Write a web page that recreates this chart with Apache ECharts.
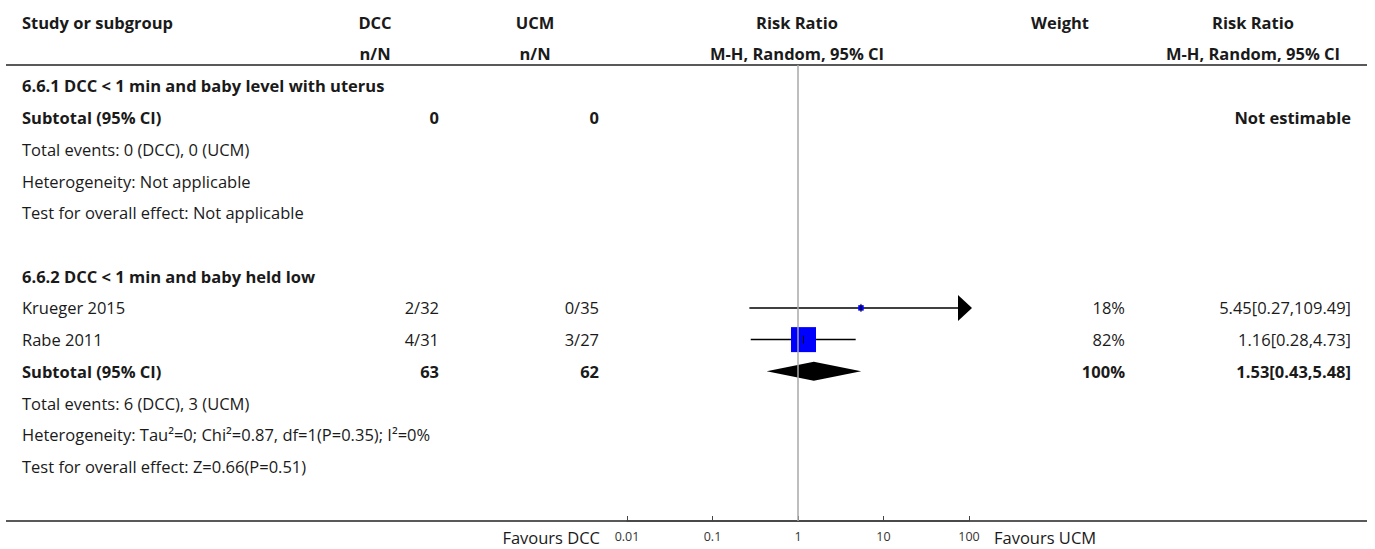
<!DOCTYPE html>
<html>
<head>
<meta charset="utf-8">
<script src="https://cdn.jsdelivr.net/npm/echarts@6/dist/echarts.min.js"></script>
<style>
html,body{margin:0;padding:0;background:#fff;}
#chart{width:1375px;height:549px;}
</style>
</head>
<body>
<div id="chart"></div>
<script>
// ---- data ----
const rowLabels = [
  "6.6.1 DCC < 1 min and baby level with uterus",
  "Subtotal (95% CI)",
  "Total events: 0 (DCC), 0 (UCM)",
  "Heterogeneity: Not applicable",
  "Test for overall effect: Not applicable",
  "",
  "6.6.2 DCC < 1 min and baby held low",
  "Krueger 2015",
  "Rabe 2011",
  "Subtotal (95% CI)",
  "Total events: 6 (DCC), 3 (UCM)",
  "Heterogeneity: Tau\u00b2=0; Chi\u00b2=0.87, df=1(P=0.35); I\u00b2=0%",
  "Test for overall effect: Z=0.66(P=0.51)"
];
const rowBold   = [1,1,0,0,0,0,1,0,0,1,0,0,0];
const dccCol    = ["","0","","","","","","2/32","4/31","63","","",""];
const ucmCol    = ["","0","","","","","","0/35","3/27","62","","",""];
const weightCol = ["","","","","","","","18%","82%","100%","","",""];
const rrCol     = ["","Not estimable","","","","","","5.45[0.27,109.49]","1.16[0.28,4.73]","1.53[0.43,5.48]","","",""];

const studyRows   = [7, 8];
const studyRR     = [5.45, 1.16];
const studyLo     = [0.27, 0.28];
const studyHi     = [109.49, 4.73];
const studyWeight = [18, 82];

const totalRows = [9];
const totalRR   = [1.53];
const totalLo   = [0.43];
const totalHi   = [5.48];

const xTickLabels = ["0.01","0.1","1","10","100"];
const headers1 = ["Study or subgroup","DCC","UCM","Risk Ratio","Weight","Risk Ratio"];
const headers2 = ["","n/N","n/N","M-H, Random, 95% CI","","M-H, Random, 95% CI"];

// ---- layout ----
const FONT = "'Open Sans'";
const FS = 16.5;
const TXT = "#1a1a1a";
const colX = { label: 22, dcc: 439, ucm: 599, weight: 1125, rr: 1351 };
const headX = [22, 375, 535, 797, 1060, 1253];
const headAlign = ["left","center","center","center","center","center"];
const XMIN = 0.01, XMAX = 100;

const chart = echarts.init(document.getElementById('chart'), null, {renderer:'svg'});

const graphics = [];
headers1.forEach((t,i)=>{
  graphics.push({type:'text', x:headX[i], y:22, style:{text:t, fill:TXT, font:'bold '+FS+'px '+FONT, textAlign:headAlign[i], textVerticalAlign:'middle'}});
  if (headers2[i]) graphics.push({type:'text', x:headX[i], y:53, style:{text:headers2[i], fill:TXT, font:'bold '+FS+'px '+FONT, textAlign:headAlign[i], textVerticalAlign:'middle'}});
});
graphics.push({type:'line', shape:{x1:6, y1:65, x2:1367, y2:65}, style:{stroke:'#222', lineWidth:1.5}});
graphics.push({type:'line', shape:{x1:6, y1:521, x2:1367, y2:521}, style:{stroke:'#222', lineWidth:1.5}, z:0});
graphics.push({type:'text', x:600, y:537, style:{text:'Favours DCC', fill:TXT, font:FS+'px '+FONT, textAlign:'right', textVerticalAlign:'middle'}});
graphics.push({type:'text', x:994, y:537, style:{text:'Favours UCM', fill:TXT, font:FS+'px '+FONT, textAlign:'left', textVerticalAlign:'middle'}});

const tableData = rowLabels.map((l,i)=>[1, i]);

function renderTable(params, api){
  const i = params.dataIndex;
  const y = api.coord([1, api.value(1)])[1];
  const wt = rowBold[i] ? 'bold ' : '';
  const f = wt + FS + 'px ' + FONT;
  const mk = (x, t, align) => ({type:'text', x:x, y:y, style:{text:t, fill:TXT, font:f, textAlign:align, textVerticalAlign:'middle'}});
  return {type:'group', children:[
    mk(colX.label, rowLabels[i], 'left'),
    mk(colX.dcc, dccCol[i], 'right'),
    mk(colX.ucm, ucmCol[i], 'right'),
    mk(colX.weight, weightCol[i], 'right'),
    mk(colX.rr, rrCol[i], 'right')
  ]};
}

const studyData = studyRows.map((r,i)=>[studyRR[i], r, studyLo[i], studyHi[i], studyWeight[i]]);
function renderStudy(params, api){
  const est = api.value(0), row = api.value(1), lo = api.value(2), hi = api.value(3), w = api.value(4);
  const pE = api.coord([est, row]);
  const pL = api.coord([Math.max(lo, XMIN), row]);
  const pH = api.coord([Math.min(hi, XMAX), row]);
  const y = pE[1];
  const children = [];
  let xEnd = pH[0];
  if (hi > XMAX) {
    xEnd = pH[0] - 11;
    children.push({type:'polygon', shape:{points:[[pH[0]-11, y-13],[pH[0]+3, y],[pH[0]-11, y+13]]}, style:{fill:'#000'}});
  }
  children.push({type:'line', shape:{x1:pL[0], y1:y, x2:xEnd, y2:y}, style:{stroke:'#000', lineWidth:1.5}});
  const s = w * 0.305;
  children.push({type:'rect', shape:{x:pE[0]-s/2, y:y-s/2, width:s, height:s}, style:{fill:'#0000ff'}});
  children.push({type:'line', shape:{x1:pE[0], y1:y-4, x2:pE[0], y2:y+4}, style:{stroke:'#000', lineWidth:1}});
  return {type:'group', children};
}

const totalData = totalRows.map((r,i)=>[totalRR[i], r, totalLo[i], totalHi[i]]);
function renderTotal(params, api){
  const est = api.value(0), row = api.value(1);
  const pE = api.coord([est,row]);
  const pL = api.coord([api.value(2),row]);
  const pH = api.coord([api.value(3),row]);
  const y = pE[1];
  return {type:'polygon', shape:{points:[[pL[0],y],[pE[0],y-9.5],[pH[0],y],[pE[0],y+9.5]]}, style:{fill:'#000'}};
}

chart.setOption({
  animation:false,
  backgroundColor:'#fff',
  grid:{left:627, right:406, top:65, bottom:28, containLabel:false},
  xAxis:{
    type:'log', logBase:10, min:XMIN, max:XMAX, position:'bottom',
    axisLine:{show:true, onZero:false, lineStyle:{color:'#444', width:1.5}},
    axisTick:{show:true, inside:true, length:5, lineStyle:{color:'#444'}},
    axisLabel:{margin:9, color:'#333', fontSize:12.5, fontFamily:'Open Sans',
      formatter:(v)=> xTickLabels[Math.round(Math.log10(v) - Math.log10(XMIN))] || ''},
    splitLine:{show:false}, minorTick:{show:false}
  },
  yAxis:{type:'value', inverse:true, min:-0.66, max:13.72, show:false},
  graphic: graphics,
  series:[
    {type:'line', data:[], markLine:{silent:true, symbol:'none', label:{show:false},
      lineStyle:{color:'#a8a8a8', width:1.5, type:'solid'}, data:[{xAxis:1}]}},
    {type:'custom', renderItem:renderTable, data:tableData, clip:false, z:3},
    {type:'custom', renderItem:renderStudy, data:studyData, clip:false, z:4},
    {type:'custom', renderItem:renderTotal, data:totalData, clip:false, z:4}
  ]
});
</script>
</body>
</html>
